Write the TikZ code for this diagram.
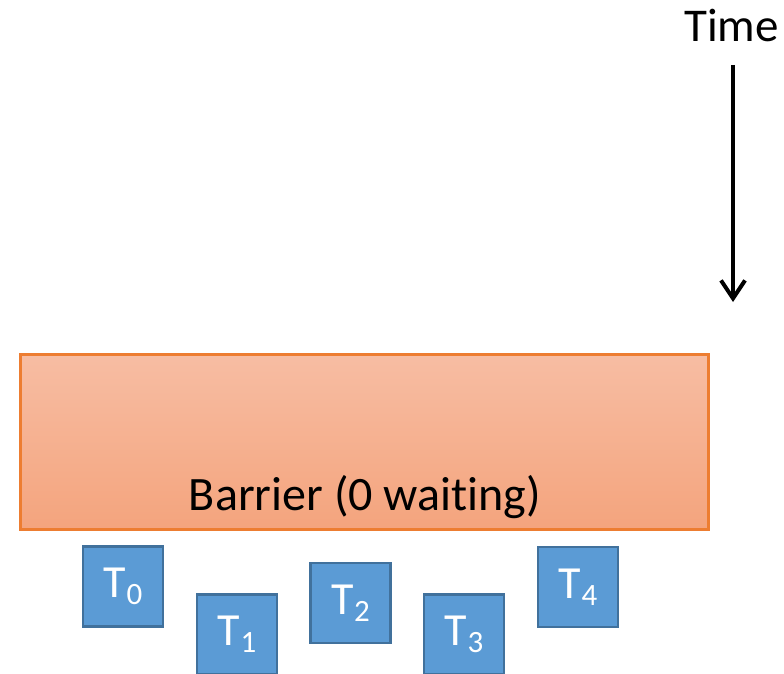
\documentclass[tikz,border=0pt]{standalone}
\usepackage{fontspec}
\setmainfont{Carlito}[Ligatures=NoCommon]
\usetikzlibrary{arrows.meta}
\definecolor{barTop}{HTML}{F7BDA3}
\definecolor{barBot}{HTML}{F4A47D}
\definecolor{barLine}{HTML}{ED7D31}
\definecolor{thFill}{HTML}{5B9BD5}
\definecolor{thLine}{HTML}{41719C}
\newcommand{\tsub}[1]{\kern0.5pt{\fontsize{31}{33}\selectfont\raisebox{-7pt}{#1}}}
\tikzset{
  thread/.style={draw=thLine, line width=2.6pt, fill=thFill, minimum width=80pt, minimum height=80pt, inner sep=0pt, text=white, font=\fontsize{46}{50}\selectfont},
}
\begin{document}
\begin{tikzpicture}[x=1pt,y=-1pt]
\useasboundingbox (0,0) rectangle (784,674);
\node[draw=barLine, line width=2.2pt, top color=barTop, bottom color=barBot, minimum width=688pt, minimum height=175pt, inner sep=0pt] (bar) at (364.5,442) {};
\node[font=\fontsize{48}{54}\selectfont, anchor=base] (bartext) at (365,510) {Barrier (0 waiting)};
\node[thread] (t0) at (123,586.5) {T\tsub{0}};
\node[thread] (t1) at (237,634.5) {T\tsub{1}};
\node[thread] (t2) at (350.5,603) {T\tsub{2}};
\node[thread] (t3) at (464,634.5) {T\tsub{3}};
\node[thread] (t4) at (578,587) {T\tsub{4}};
\node[font=\fontsize{47}{52}\selectfont, anchor=base] (time) at (731.5,42) {Time};
\coordinate (a0) at (733,65);
\coordinate (a1) at (733,302);
\draw[line width=4pt, -{Straight Barb[length=18pt, width=24pt, line width=4pt]}] (a0) -- (a1);
\end{tikzpicture}
\end{document}
